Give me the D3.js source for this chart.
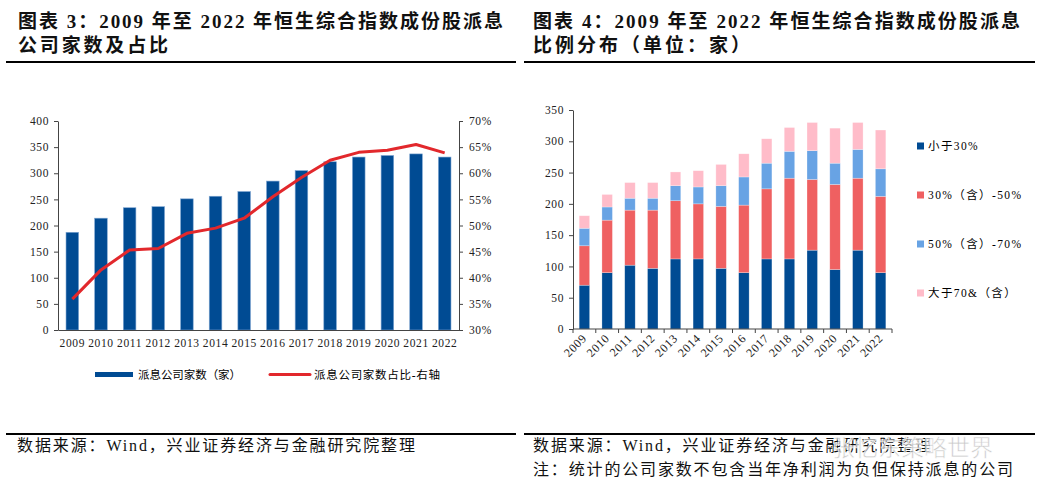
<!DOCTYPE html>
<html>
<head>
<meta charset="utf-8">
<script src="https://cdn.jsdelivr.net/npm/d3@7"></script>
<style>
  body { margin: 0; background: #fff; }
  svg { display: block; }
  .tick text { font-family: "Liberation Serif", "Noto Sans CJK SC", serif; font-size: 11.5px; fill: #222; letter-spacing: 0.6px; }
  .domain, .tick line { stroke: #444; }
</style>
</head>
<body>
<div id="chart"></div>
<script>
// Data
const years = ["2009","2010","2011","2012","2013","2014","2015","2016","2017","2018","2019","2020","2021","2022"];

// figure 3: number of dividend-paying companies and share
const payCount = [187, 214, 234, 236, 251, 256, 265, 285, 305, 322, 331, 334, 337, 331];
const payRatio = [35.9, 41.5, 45.3, 45.6, 48.5, 49.5, 51.4, 55.5, 59.2, 62.5, 64.0, 64.4, 65.5, 63.9];
const countTicks = [0, 50, 100, 150, 200, 250, 300, 350, 400];
const ratioTicks = [30, 35, 40, 45, 50, 55, 60, 65, 70];

// figure 4: distribution of payout ratio
const below30 = [70, 90, 102, 97, 112, 112, 97, 90, 112, 112, 126, 95, 126, 90];
const from30to50 = [63, 84, 88, 93, 93, 88, 99, 108, 112, 129, 113, 136, 115, 122];
const from50to70 = [28, 21, 19, 19, 24, 27, 33, 45, 41, 43, 46, 34, 46, 44];
const above70 = [20, 20, 25, 25, 22, 26, 34, 37, 39, 38, 45, 56, 43, 62];
const distTicks = [0, 50, 100, 150, 200, 250, 300, 350];
const distNames = ["小于30%", "30%（含）-50%", "50%（含）-70%", "大于70&（含）"];

const W = 1044, H = 495;
const serif = '"Liberation Serif", "Noto Sans CJK SC", serif';
const blue = "#004b93", red = "#e2282c";
const distColors = ["#004b93", "#ef6061", "#68a3e4", "#ffbcc9"];

const svg = d3.select("#chart").append("svg")
    .attr("width", W)
    .attr("height", H);

// ---- titles and rules ----
function title(x, lines) {
    lines.forEach((l, i) => {
        svg.append("text")
            .attr("x", x).attr("y", 28 + i * 24)
            .attr("textLength", l.w).attr("lengthAdjust", "spacing")
            .style("font-family", serif).style("font-weight", "bold")
            .style("font-size", "19px").attr("fill", "#111")
            .text(l.t);
    });
}
title(18, [{ t: "图表 3：2009 年至 2022 年恒生综合指数成份股派息", w: 485 }, { t: "公司家数及占比", w: 150 }]);
title(533, [{ t: "图表 4：2009 年至 2022 年恒生综合指数成份股派息", w: 487 }, { t: "比例分布（单位：家）", w: 217 }]);

[[6, 516], [524, 1035]].forEach(([a, b]) => {
    svg.append("line").attr("x1", a).attr("x2", b).attr("y1", 62).attr("y2", 62)
        .attr("stroke", "#000").attr("stroke-width", 2);
    svg.append("line").attr("x1", a).attr("x2", b).attr("y1", 434).attr("y2", 434)
        .attr("stroke", "#000").attr("stroke-width", 2);
});

// ---- left chart ----
const x1 = d3.scaleBand().domain(years).range([58, 459]).paddingInner(0.56).paddingOuter(0.28);
const yL = d3.scaleLinear().domain([0, 400]).range([330, 121]);
const yR = d3.scaleLinear().domain([30, 70]).range([330, 121]);

const left = svg.append("g");
left.selectAll("rect.bar")
    .data(payCount)
    .join("rect")
    .attr("class", "bar")
    .attr("x", (d, i) => x1(years[i]))
    .attr("y", d => yL(d))
    .attr("width", x1.bandwidth())
    .attr("height", d => yL(0) - yL(d))
    .attr("fill", blue)
    .attr("stroke", "#7fa6d2").attr("stroke-width", 0.6);

left.append("g")
    .attr("transform", "translate(58,0)")
    .call(d3.axisLeft(yL).tickValues(countTicks).tickSize(4).tickSizeOuter(0).tickPadding(5));
left.append("g")
    .attr("transform", "translate(459,0)")
    .call(d3.axisRight(yR).tickValues(ratioTicks).tickSize(4).tickSizeOuter(0).tickPadding(6)
        .tickFormat(d => d + "%"));
left.append("g")
    .attr("transform", "translate(0,330)")
    .call(d3.axisBottom(x1).tickSize(0).tickPadding(9));

const line = d3.line()
    .x((d, i) => x1(years[i]) + x1.bandwidth() / 2)
    .y(d => yR(d));
left.append("path")
    .datum(payRatio)
    .attr("d", line)
    .attr("fill", "none")
    .attr("stroke", red)
    .attr("stroke-width", 3)
    .attr("stroke-linejoin", "round");

// legend
const lg = svg.append("g").style("font-family", serif).style("font-size", "11.5px");
lg.append("rect").attr("x", 95).attr("y", 372).attr("width", 38).attr("height", 5).attr("fill", blue);
lg.append("text").attr("x", 138).attr("y", 379).attr("textLength", 103).attr("lengthAdjust", "spacing")
    .text("派息公司家数（家）");
lg.append("line").attr("x1", 270).attr("x2", 310).attr("y1", 374.5).attr("y2", 374.5)
    .attr("stroke", red).attr("stroke-width", 3).attr("stroke-linecap", "round");
lg.append("text").attr("x", 314).attr("y", 379).attr("textLength", 126).attr("lengthAdjust", "spacing")
    .text("派息公司家数占比-右轴");

// ---- right chart ----
const x2 = d3.scaleBand().domain(years).range([573, 892]).paddingInner(0.54).paddingOuter(0.27);
const y2 = d3.scaleLinear().domain([0, 350]).range([329, 110]);

const table = years.map((yr, i) => ({ year: yr, s0: below30[i], s1: from30to50[i], s2: from50to70[i], s3: above70[i] }));
const stacked = d3.stack().keys(["s0", "s1", "s2", "s3"])(table);

const right = svg.append("g");
right.selectAll("g.layer")
    .data(stacked)
    .join("g")
    .attr("class", "layer")
    .attr("fill", (d, i) => distColors[i])
    .selectAll("rect")
    .data(d => d)
    .join("rect")
    .attr("x", d => x2(d.data.year))
    .attr("y", d => y2(d[1]))
    .attr("width", x2.bandwidth())
    .attr("height", d => y2(d[0]) - y2(d[1]))
    .attr("stroke", "rgba(255,255,255,0.45)").attr("stroke-width", 0.6);

right.append("g")
    .attr("transform", "translate(573,0)")
    .call(d3.axisLeft(y2).tickValues(distTicks).tickSize(4).tickSizeOuter(0).tickPadding(5));

const xAx = right.append("g").attr("transform", "translate(0,329)");
xAx.append("line").attr("x1", 573).attr("x2", 892).attr("stroke", "#444");
xAx.selectAll("line.tk")
    .data(d3.range(years.length + 1))
    .join("line")
    .attr("class", "tk")
    .attr("x1", i => 573 + i * x2.step()).attr("x2", i => 573 + i * x2.step())
    .attr("y1", 0).attr("y2", 4)
    .attr("stroke", "#444");
xAx.selectAll("text")
    .data(years)
    .join("text")
    .attr("transform", d => `translate(${x2(d) + x2.bandwidth() / 2 + 3},${10}) rotate(-45)`)
    .attr("text-anchor", "end")
    .style("font-family", serif).style("font-size", "12px").style("letter-spacing", "0.6px")
    .attr("fill", "#222")
    .text(d => d);

// legend
const lg2 = svg.append("g").style("font-family", serif).style("font-size", "11.5px");
distNames.forEach((n, i) => {
    const yy = 146 + i * 49;
    lg2.append("rect").attr("x", 917).attr("y", yy - 3.5).attr("width", 7).attr("height", 7).attr("fill", distColors[i]);
    lg2.append("text").attr("x", 928).attr("y", yy + 4).style("letter-spacing", "1.4px").text(n);
});

// ---- sources ----
const foot = svg.append("g").style("font-family", serif).style("font-size", "16px").attr("fill", "#111");
foot.append("text").attr("x", 17).attr("y", 451).attr("textLength", 398).attr("lengthAdjust", "spacing")
    .text("数据来源：Wind，兴业证券经济与金融研究院整理");
foot.append("text").attr("x", 533).attr("y", 451).attr("textLength", 398).attr("lengthAdjust", "spacing")
    .text("数据来源：Wind，兴业证券经济与金融研究院整理");
foot.append("text").attr("x", 533).attr("y", 475).attr("textLength", 480).attr("lengthAdjust", "spacing")
    .text("注：统计的公司家数不包含当年净利润为负但保持派息的公司");

// watermark
svg.append("text")
    .attr("x", 832).attr("y", 456)
    .style("font-family", '"Noto Sans CJK SC", sans-serif').style("font-size", "23px")
    .attr("fill", "rgba(140,140,140,0.55)")
    .attr("stroke", "rgba(255,255,255,0.8)").attr("stroke-width", 1)
    .text("张忆东策略世界");
</script>
</body>
</html>
